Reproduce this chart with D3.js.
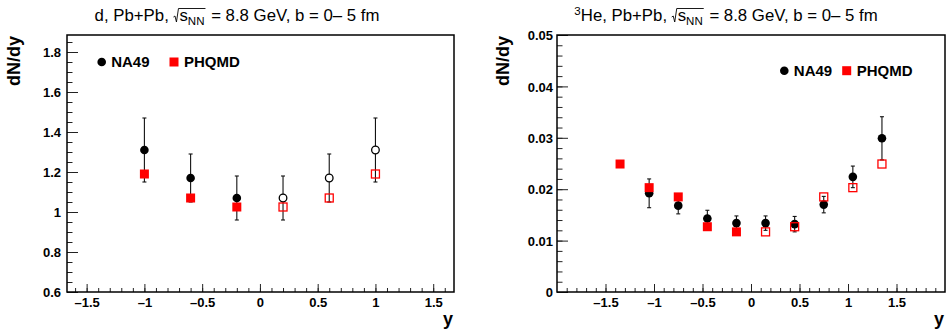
<!DOCTYPE html>
<html>
<head>
<meta charset="utf-8">
<script src="https://cdn.jsdelivr.net/npm/d3@7"></script>
<style>
  body { margin: 0; background: #fff; }
  svg { display: block; font-family: "Liberation Sans", Arial, Helvetica, sans-serif; }
</style>
</head>
<body>
<svg id="chart" width="948" height="334"></svg>
<script>
// deuterons, left panel
const dRap = [-1.0, -0.6, -0.2, 0.2, 0.6, 1.0];
const dNA49 = [1.31, 1.17, 1.07, 1.07, 1.17, 1.31];
const dNA49Err = [0.16, 0.12, 0.11, 0.11, 0.12, 0.16];
const dNA49Open = [false, false, false, true, true, true];
const dPHQMD = [1.19, 1.07, 1.025, 1.025, 1.07, 1.19];
const dPHQMDOpen = [false, false, false, true, true, true];

// 3He, right panel
const heRapNA49 = [-1.05, -0.75, -0.45, -0.15, 0.15, 0.45, 0.75, 1.05, 1.35];
const heNA49 = [0.0192, 0.0168, 0.0143, 0.0134, 0.0134, 0.0132, 0.0170, 0.0224, 0.0299];
const heNA49Err = [0.0028, 0.0016, 0.0016, 0.0014, 0.0014, 0.0015, 0.0016, 0.0021, 0.0042];
const heRapPHQMD = [-1.35, -1.05, -0.75, -0.45, -0.15, 0.15, 0.45, 0.75, 1.05, 1.35];
const hePHQMD = [0.0249, 0.0203, 0.0185, 0.0127, 0.0117, 0.0117, 0.0127, 0.0185, 0.0203, 0.0249];
const hePHQMDOpen = [false, false, false, false, false, true, true, true, true, true];

const xTicks = [-1.5, -1, -0.5, 0, 0.5, 1, 1.5];
const dYTicks = [0.6, 0.8, 1, 1.2, 1.4, 1.6, 1.8];
const heYTicks = [0, 0.01, 0.02, 0.03, 0.04, 0.05];

const svg = d3.select('#chart');
const fmt = v => d3.format('~g')(v).replace('−', '–');

function panel(opt) {
  const x = d3.scaleLinear().domain(opt.xDomain).range([opt.x0, opt.x1]);
  const y = d3.scaleLinear().domain(opt.yDomain).range([opt.y1, opt.y0]);
  const g = svg.append('g');

  // minor ticks
  const xMinor = d3.range(-19, 20).map(i => i / 10).filter(v => v > opt.xDomain[0] && v < opt.xDomain[1]);
  const yMinor = d3.range(opt.yDomain[0], opt.yDomain[1] + 1e-9, opt.yMinorStep);

  g.append('g').attr('transform', `translate(0,${opt.y1})`)
    .call(d3.axisBottom(x).tickValues(xMinor).tickSizeInner(-4).tickSizeOuter(0).tickFormat(''))
    .call(s => s.select('.domain').remove());
  g.append('g').attr('transform', `translate(${opt.x0},0)`)
    .call(d3.axisLeft(y).tickValues(yMinor).tickSizeInner(-5.5).tickSizeOuter(0).tickFormat(''))
    .call(s => s.select('.domain').remove());

  // major ticks + labels
  const xa = g.append('g').attr('transform', `translate(0,${opt.y1})`)
    .call(d3.axisBottom(x).tickValues(xTicks).tickSizeInner(-8).tickSizeOuter(0).tickPadding(7).tickFormat(fmt));
  xa.select('.domain').remove();
  xa.selectAll('text').attr('font-size', 13).attr('font-weight', 'bold').attr('font-family', null)
    .attr('dy', null).attr('y', 15);
  const ya = g.append('g').attr('transform', `translate(${opt.x0},0)`)
    .call(d3.axisLeft(y).tickValues(opt.yTicks).tickSizeInner(-11).tickSizeOuter(0).tickPadding(opt.yPad).tickFormat(fmt));
  ya.select('.domain').remove();
  ya.selectAll('text').attr('font-size', 13).attr('font-weight', 'bold').attr('font-family', null)
    .attr('dy', '0.36em');
  g.selectAll('.tick line').attr('stroke', '#222').attr('stroke-width', 1);

  // frame
  g.append('rect').attr('x', opt.x0).attr('y', opt.y0)
    .attr('width', opt.x1 - opt.x0).attr('height', opt.y1 - opt.y0)
    .attr('fill', 'none').attr('stroke', '#000').attr('stroke-width', 1.5);

  // axis titles
  g.append('text').attr('transform', `translate(${opt.yTitleX},${opt.y0 + 1}) rotate(-90)`)
    .attr('text-anchor', 'end').attr('font-size', 18).attr('font-weight', 'bold').text('dN/dy');
  g.append('text').attr('x', opt.x1 - 1).attr('y', 325)
    .attr('text-anchor', 'end').attr('font-size', 18).attr('font-weight', 'bold').text('y');

  // NA49 error bars
  const na = opt.na.map((v, i) => ({ x: opt.naRap[i], v, e: opt.naErr[i], open: opt.naOpen[i] }));
  const eb = g.append('g').attr('stroke', '#111').attr('stroke-width', 1.1);
  na.forEach(d => {
    const cx = x(d.x);
    eb.append('line').attr('x1', cx).attr('x2', cx).attr('y1', y(d.v - d.e)).attr('y2', y(d.v + d.e));
    [d.v - d.e, d.v + d.e].forEach(t => eb.append('line')
      .attr('x1', cx - 2).attr('x2', cx + 2).attr('y1', y(t)).attr('y2', y(t)));
  });
  g.append('g').selectAll('circle').data(na).join('circle')
    .attr('cx', d => x(d.x)).attr('cy', d => y(d.v)).attr('r', d => d.open ? 3.8 : 4.3)
    .attr('fill', d => d.open ? '#fff' : '#000')
    .attr('stroke', '#000').attr('stroke-width', d => d.open ? 1.3 : 0);

  // PHQMD squares
  const ph = opt.ph.map((v, i) => ({ x: opt.phRap[i], v, open: opt.phOpen[i] }));
  g.append('g').selectAll('rect').data(ph).join('rect')
    .attr('x', d => x(d.x) - (d.open ? 4 : 4.5)).attr('y', d => y(d.v) - (d.open ? 4 : 4.5))
    .attr('width', d => d.open ? 8 : 9).attr('height', d => d.open ? 8 : 9)
    .attr('fill', d => d.open ? 'none' : '#f00')
    .attr('stroke', d => d.open ? '#f00' : 'none').attr('stroke-width', 1.3);

  // legend
  const lg = g.append('g').attr('font-size', 15).attr('font-weight', 'bold');
  lg.append('circle').attr('cx', opt.leg[0]).attr('cy', opt.leg[1]).attr('r', 4.3).attr('fill', '#000');
  lg.append('text').attr('x', opt.leg[0] + 9.5).attr('y', opt.leg[1] + 5.4).text('NA49');
  lg.append('rect').attr('x', opt.leg[2] - 4.5).attr('y', opt.leg[1] - 4.5).attr('width', 9).attr('height', 9).attr('fill', '#f00');
  lg.append('text').attr('x', opt.leg[2] + 10).attr('y', opt.leg[1] + 5.4).text('PHQMD');

  title(opt.title, opt.titleCx, 21);
}

// title with a ROOT-like square root over s_NN
function title(parts, cx, base) {
  const g = svg.append('g');
  let cur = 0, radStart = null;
  parts.forEach(p => {
    if (p.rad) { radStart = cur; cur += 6; return; }
    if (p.radEnd) {
      g.append('path')
        .attr('d', `M${radStart},${base - 4} L${radStart + 1.5},${base - 5} L${radStart + 3},${base + 1} L${radStart + 5},${base - 12.5} L${cur + 1},${base - 12.5}`)
        .attr('fill', 'none').attr('stroke', '#000').attr('stroke-width', 0.9);
      cur += 2;
      return;
    }
    const size = p.sub || p.sup ? 11.5 : 16.8;
    const dy = p.sub ? 4 : p.sup ? -6.5 : 0;
    const t = g.append('text').attr('x', cur).attr('y', base + dy).attr('font-size', size)
      .style('white-space', 'pre').text(p.t);
    cur += t.node().getComputedTextLength();
  });
  g.attr('transform', `translate(${cx - cur / 2},0)`);
}

panel({
  x0: 67, x1: 454, y0: 35, y1: 292,
  xDomain: [-1.67, 1.68], yDomain: [0.6, 1.885], yTicks: dYTicks, yMinorStep: 0.05, yPad: 6,
  naRap: dRap, na: dNA49, naErr: dNA49Err, naOpen: dNA49Open,
  phRap: dRap, ph: dPHQMD, phOpen: dPHQMDOpen,
  leg: [101.7, 62, 174], yTitleX: 19.5,
  title: [{ t: 'd, Pb+Pb, ' }, { rad: true }, { t: 's' }, { t: 'NN', sub: true }, { radEnd: true }, { t: ' = 8.8 GeV, b = 0– 5 fm' }],
  titleCx: 237
});

panel({
  x0: 557, x1: 945, y0: 35, y1: 292,
  xDomain: [-2, 2], yDomain: [0, 0.05], yTicks: heYTicks, yMinorStep: 0.002, yPad: 4,
  naRap: heRapNA49, na: heNA49, naErr: heNA49Err, naOpen: heRapNA49.map(() => false),
  phRap: heRapPHQMD, ph: hePHQMD, phOpen: hePHQMDOpen,
  leg: [784.3, 70.7, 846.7], yTitleX: 508.5,
  title: [{ t: '3', sup: true }, { t: 'He, Pb+Pb, ' }, { rad: true }, { t: 's' }, { t: 'NN', sub: true }, { radEnd: true }, { t: ' = 8.8 GeV, b = 0– 5 fm' }],
  titleCx: 726
});
</script>
</body>
</html>
